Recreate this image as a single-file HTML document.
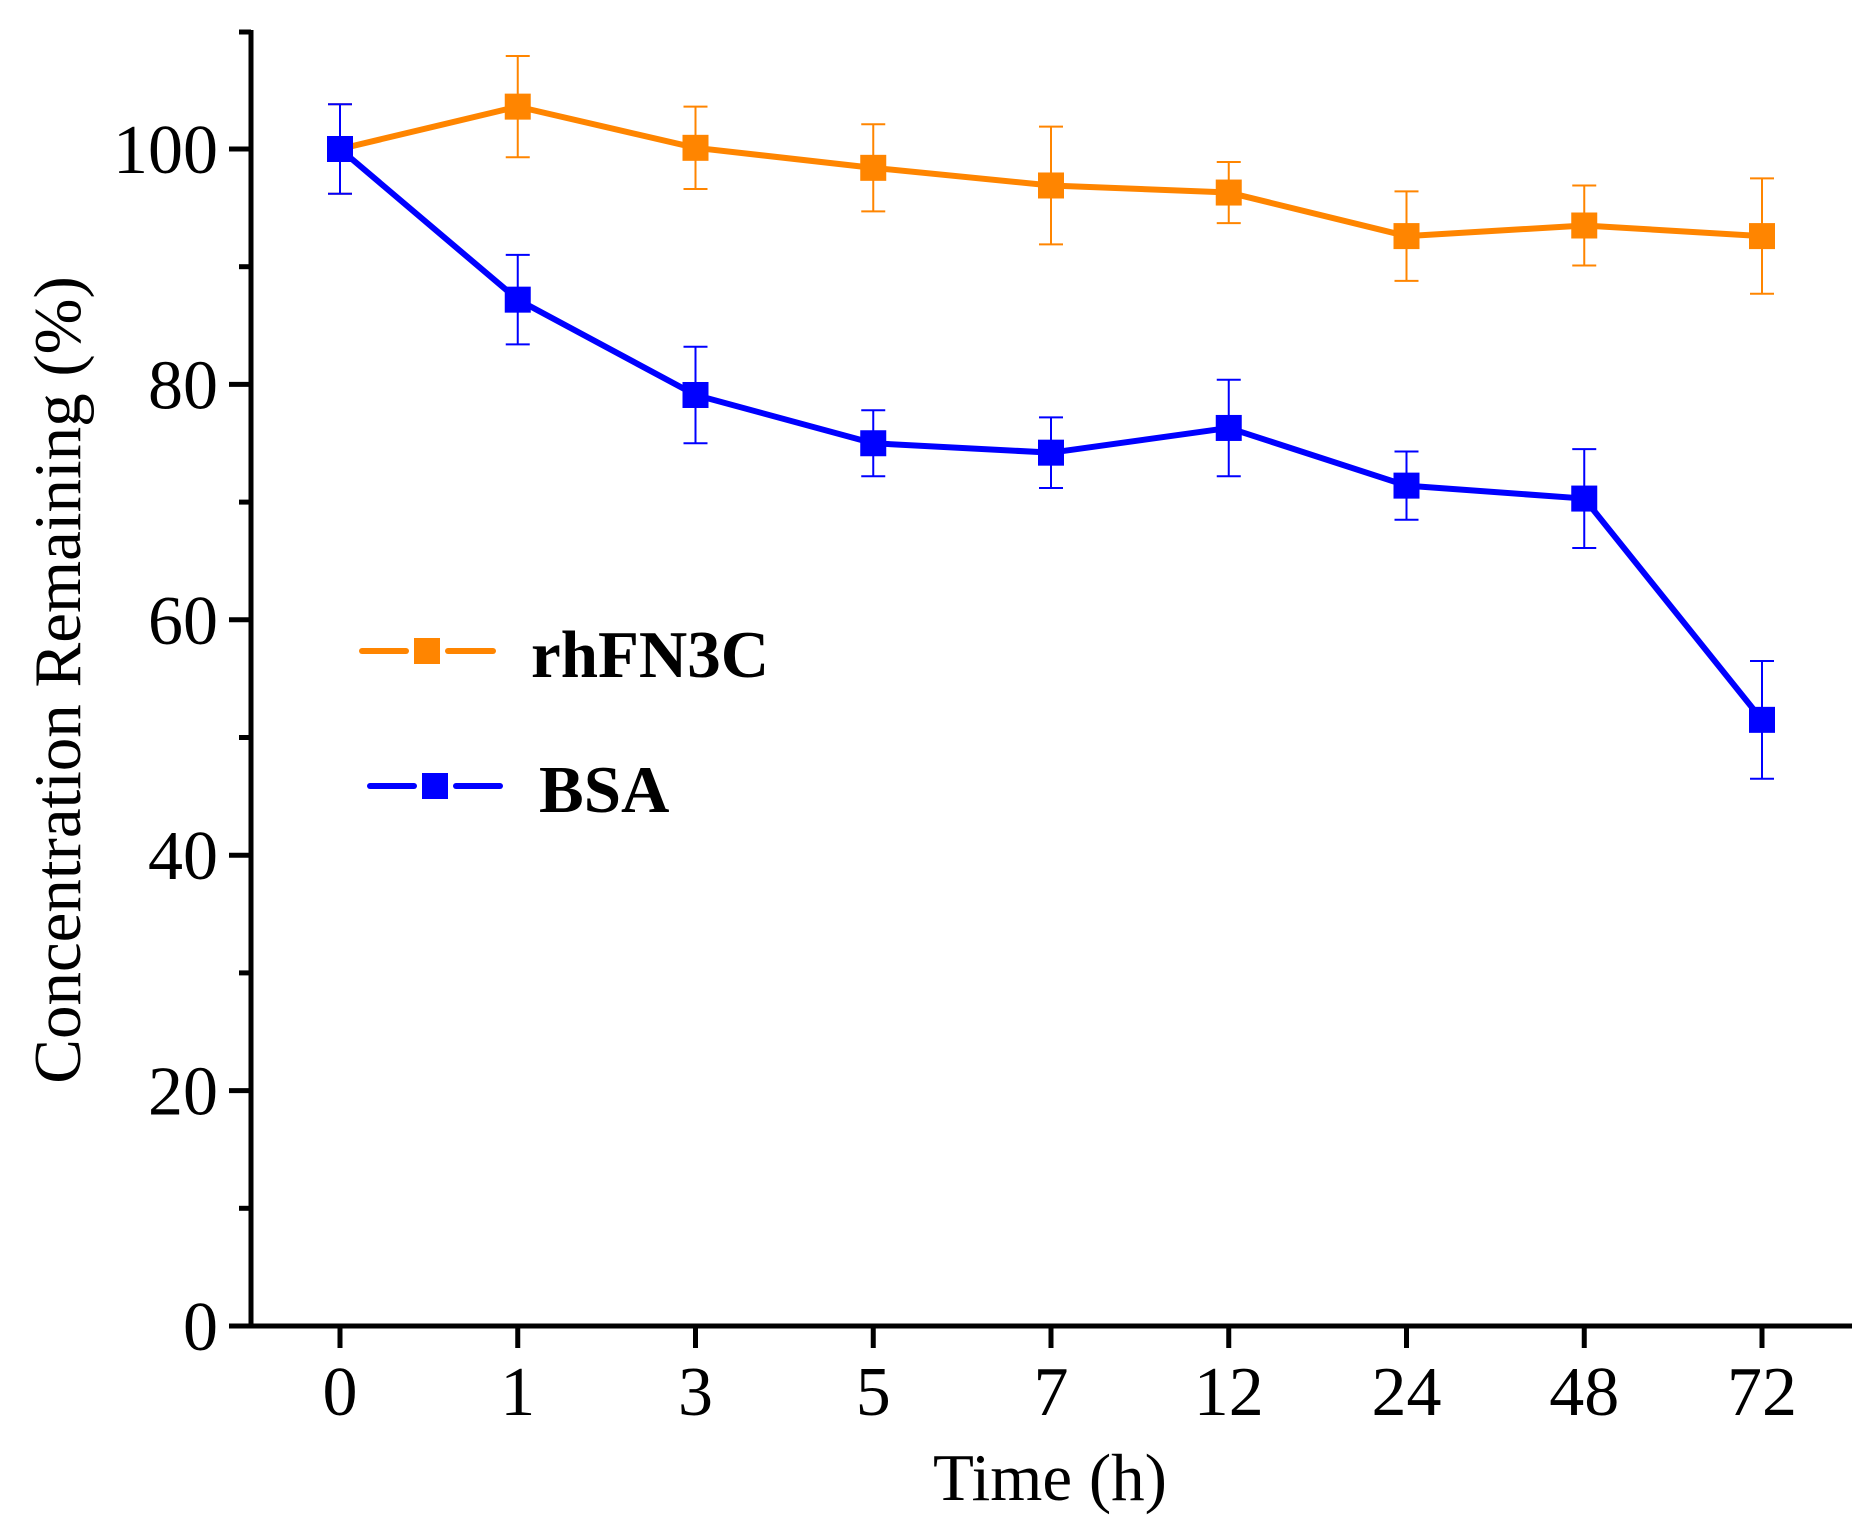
<!DOCTYPE html>
<html><head><meta charset="utf-8"><style>
html,body{margin:0;padding:0;background:#fff;}
svg{display:block;font-family:"Liberation Serif",serif;}
</style></head><body>
<svg id="chart" width="1870" height="1521" viewBox="0 0 1870 1521" xmlns="http://www.w3.org/2000/svg">
<g id="axes"></g>
<g id="series"></g>
<g id="legend">
  <line x1="362" y1="651" x2="406" y2="651" stroke="#FF8500" stroke-width="6" stroke-linecap="round"/>
  <line x1="448" y1="651" x2="493" y2="651" stroke="#FF8500" stroke-width="6" stroke-linecap="round"/>
  <rect x="414" y="638" width="26" height="26" fill="#FF8500"/>
  <text x="531" y="677" font-size="67" font-weight="bold">rhFN3C</text>
  <line x1="370" y1="786" x2="414" y2="786" stroke="#0000FF" stroke-width="6" stroke-linecap="round"/>
  <line x1="456" y1="786" x2="500" y2="786" stroke="#0000FF" stroke-width="6" stroke-linecap="round"/>
  <rect x="422" y="773" width="26" height="26" fill="#0000FF"/>
  <text x="539" y="812" font-size="67" font-weight="bold">BSA</text>
</g>
<text x="1050" y="1500" font-size="67" text-anchor="middle">Time (h)</text>
<text transform="translate(80,680) rotate(-90)" font-size="67" text-anchor="middle">Concentration Remaining (%)</text>
</svg>
<script>
const categories = ["0","1","3","5","7","12","24","48","72"];
const rhfnValues = [100, 103.6, 100.1, 98.4, 96.9, 96.3, 92.6, 93.5, 92.6];
const rhfnErrors = [3.8, 4.3, 3.5, 3.7, 5.0, 2.6, 3.8, 3.4, 4.9];
const bsaValues = [100, 87.2, 79.1, 75.0, 74.2, 76.3, 71.4, 70.3, 51.5];
const bsaErrors = [3.8, 3.8, 4.1, 2.8, 3.0, 4.1, 2.9, 4.2, 5.0];
const yTicks = [0, 20, 40, 60, 80, 100];
const yMinorTicks = [10, 30, 50, 70, 90];

const NS = "http://www.w3.org/2000/svg";
const X0 = 251, XEND = 1852, Y0 = 1326, YTOP = 30;
const pxPerUnit = (1326 - 149) / 100;
function xScale(i){ return 340 + i * 177.75; }
function yScale(v){ return Y0 - v * pxPerUnit; }
function mk(tag, attrs, parent){
  const e = document.createElementNS(NS, tag);
  for (const k in attrs) e.setAttribute(k, attrs[k]);
  parent.appendChild(e);
  return e;
}
const axes = document.getElementById('axes');
let l = mk('line', {x1:X0, y1:YTOP, x2:X0, y2:Y0+2, stroke:'#000', 'stroke-width':5}, axes);


l = mk('line', {x1:X0-2, y1:Y0, x2:XEND, y2:Y0, stroke:'#000', 'stroke-width':5}, axes);


l = mk('line', {x1:X0-12, y1:YTOP+2, x2:X0, y2:YTOP+2, stroke:'#000', 'stroke-width':5}, axes);


yTicks.forEach(v => {
  const y = yScale(v);
  const t = mk('line', {x1:X0-22, y1:y, x2:X0, y2:y, stroke:'#000', 'stroke-width':5}, axes);
  
  
  const tx = mk('text', {x:X0-33, y:y+24, 'font-size':70, 'text-anchor':'end'}, axes);
  tx.textContent = v;
  
  
});
yMinorTicks.forEach(v => {
  const y = yScale(v);
  const t = mk('line', {x1:X0-12, y1:y, x2:X0, y2:y, stroke:'#000', 'stroke-width':5}, axes);
  
  
});
categories.forEach((c, i) => {
  const x = xScale(i);
  const t = mk('line', {x1:x, y1:Y0, x2:x, y2:Y0+22, stroke:'#000', 'stroke-width':5}, axes);
  
  
  const tx = mk('text', {x:x, y:Y0+89, 'font-size':70, 'text-anchor':'middle'}, axes);
  tx.textContent = c;
  
  
});
const series = document.getElementById('series');
function drawSeries(vals, errs, color, name){
  const g = mk('g', {}, series);
  
  
  const pts = vals.map((v, i) => xScale(i) + ',' + yScale(v)).join(' ');
  const pl = mk('polyline', {points:pts, fill:'none', stroke:color, 'stroke-width':6, 'stroke-linejoin':'round'}, g);
  
  
  vals.forEach((v, i) => {
    const x = xScale(i), y = yScale(v);
    const yt = yScale(v + errs[i]), yb = yScale(v - errs[i]);
    const eb = mk('path', {d:`M${x},${yt}V${yb}M${x-12},${yt}H${x+12}M${x-12},${yb}H${x+12}`, stroke:color, 'stroke-width':2, fill:'none'}, g);
    
    
    const r = mk('rect', {x:x-13, y:y-13, width:26, height:26, fill:color}, g);
    
    
  });
}
drawSeries(rhfnValues, rhfnErrors, '#FF8500', 'rhfn3c');
drawSeries(bsaValues, bsaErrors, '#0000FF', 'bsa');
</script>
</body></html>
